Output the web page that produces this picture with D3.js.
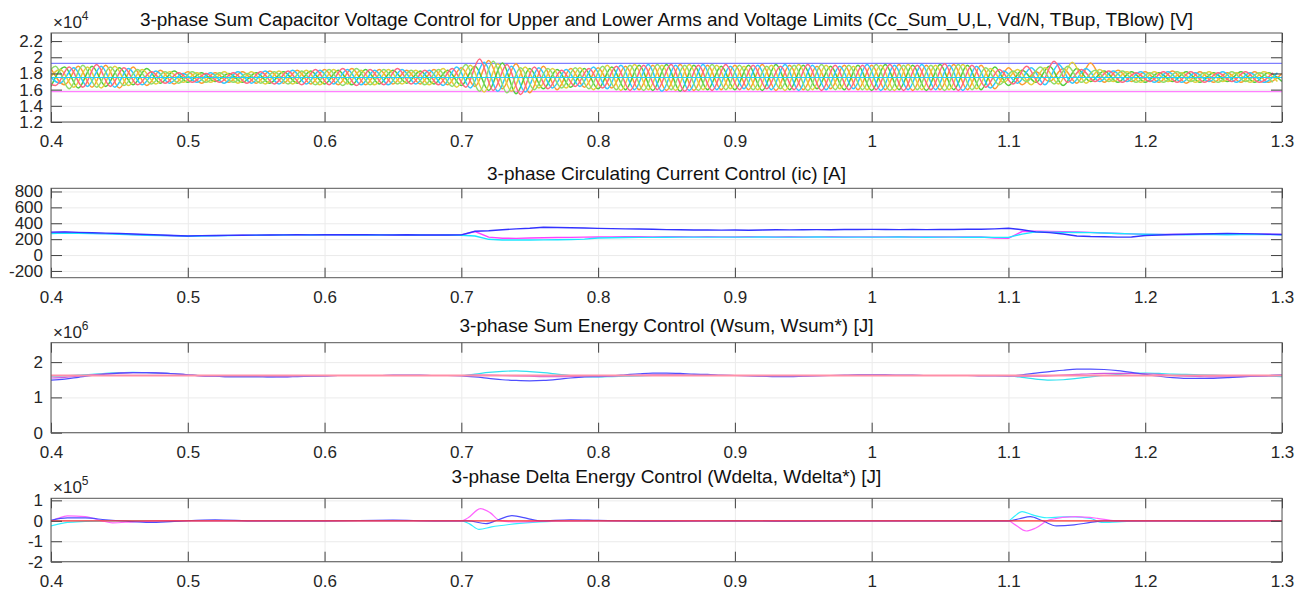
<!DOCTYPE html>
<html>
<head>
<meta charset="utf-8">
<script src="https://cdn.jsdelivr.net/npm/d3@7"></script>
<style>
body { margin: 0; background: #fff; }
svg { font-family: "Liberation Sans", Arial, sans-serif; }
</style>
</head>
<body>
<svg width="1307" height="589"></svg>
<script>
var width = 1307;
var height = 589;
var margin = {left: 51, right: 25};

// x axis, shared by all four panels
var xTicks = [0.4, 0.5, 0.6, 0.7, 0.8, 0.9, 1, 1.1, 1.2, 1.3];

// titles
var titles = [
  "3-phase Sum Capacitor Voltage Control for Upper and Lower Arms and Voltage Limits (Cc_Sum_U,L, Vd/N, TBup, TBlow) [V]",
  "3-phase Circulating Current Control (ic) [A]",
  "3-phase Sum Energy Control (Wsum, Wsum*) [J]",
  "3-phase Delta Energy Control (Wdelta, Wdelta*) [J]"
];

// ---- panel 1: arm sum capacitor voltages, peaks and troughs every half cycle (kV) ----
var halfCycle = 0.01;
var phaseStart = [0.4, 0.39667, 0.39333];

var sumUa = [18.6,16.6,18.9,16.3,19.0,16.2,18.8,16.5,18.4,16.7,
  18.2,16.8,18.1,16.9,18.2,16.8,18.3,16.8,18.4,16.7,
  18.5,16.6,18.6,16.6,18.5,16.7,18.4,16.7,18.5,16.6,
  18.7,16.4,19.6,16.1,19.2,15.6,18.9,16.0,18.6,16.3,
  18.7,16.2,18.9,16.0,19.0,15.9,19.1,15.9,19.0,16.0,
  19.0,16.0,19.1,15.9,19.0,16.0,18.9,16.1,19.0,16.0,
  19.0,16.0,19.1,15.9,19.0,16.0,19.1,16.0,19.0,16.1,
  18.7,16.6,18.2,17.0,18.6,16.8,19.3,16.9,18.4,17.0,
  18.2,16.9,18.3,16.8,18.2,16.9,18.1,16.9,18.2,16.9,18.0];
var sumLa = [16.4,18.8,16.2,18.9,16.4,18.7,16.6,18.6,16.8,18.3,
  16.9,18.1,17.0,18.0,16.9,18.1,16.8,18.2,16.8,18.3,
  16.7,18.4,16.6,18.5,16.7,18.4,16.8,18.3,16.7,18.4,
  16.5,18.9,15.9,19.3,15.5,18.6,16.1,18.5,16.3,18.6,
  16.1,18.8,16.0,19.0,15.9,19.1,15.8,19.0,16.0,18.9,
  16.0,19.0,15.9,19.1,16.0,19.0,16.1,18.9,16.0,19.0,
  15.9,19.1,16.0,19.0,15.9,19.1,16.0,19.0,16.0,18.8,
  16.5,18.4,16.9,18.9,16.5,18.6,17.0,18.3,16.9,18.2,
  16.9,18.1,17.0,18.2,16.9,18.1,17.0,18.2,16.9,18.1,17.0];
var sumUb = [18.2,16.8,18.7,16.4,18.9,16.3,18.6,16.6,18.3,16.8,
  18.0,16.9,18.1,16.8,18.2,16.8,18.3,16.7,18.4,16.7,
  18.4,16.7,18.5,16.6,18.4,16.6,18.5,16.7,18.4,16.5,
  18.8,16.2,19.4,15.8,18.9,15.7,18.7,16.2,18.5,16.4,
  18.8,16.1,19.0,16.0,19.1,15.8,19.0,15.9,19.1,16.0,
  18.9,16.1,19.0,16.0,19.1,15.9,19.0,16.0,18.9,16.1,
  19.1,15.9,19.0,16.0,19.1,16.0,19.0,15.9,18.9,16.2,
  18.3,16.8,18.7,16.6,19.1,16.8,18.6,17.0,18.3,17.0,
  18.2,16.9,18.2,16.9,18.1,17.0,18.2,16.9,18.1,16.9,18.1];
var sumLb = [16.9,18.5,16.3,18.8,16.2,18.9,16.5,18.5,16.7,18.2,
  16.9,18.1,16.9,18.2,16.8,18.2,16.7,18.3,16.7,18.4,
  16.6,18.5,16.7,18.4,16.6,18.5,16.7,18.4,16.6,18.6,
  16.3,19.0,15.7,19.2,15.8,18.8,16.2,18.6,16.2,18.7,
  16.0,19.0,15.9,19.1,16.0,19.0,15.9,19.1,16.0,19.0,
  16.1,18.9,16.0,19.0,15.9,19.1,16.0,19.0,16.1,18.9,
  16.0,19.0,15.9,19.1,16.0,19.0,16.0,19.1,16.1,18.6,
  16.9,18.5,16.6,18.7,16.7,19.4,16.8,18.5,17.0,18.2,
  16.9,18.2,17.0,18.1,16.9,18.2,17.0,18.1,16.9,18.2,17.0];
var sumUc = [17.8,16.5,18.8,16.3,19.1,16.4,18.7,16.6,18.2,16.8,
  18.1,16.9,18.0,16.9,18.1,16.8,18.2,16.7,18.3,16.6,
  18.5,16.6,18.6,16.5,18.5,16.6,18.6,16.7,18.4,16.6,
  18.6,16.3,19.8,15.9,19.1,15.4,18.8,16.1,18.4,16.4,
  18.6,16.2,18.9,15.9,19.0,16.0,19.1,15.8,19.0,15.9,
  19.1,16.0,19.0,16.1,18.9,16.0,19.1,15.9,19.0,16.0,
  19.0,16.0,19.1,15.9,19.0,16.0,19.2,15.9,19.0,16.3,
  18.5,16.7,18.9,16.6,19.5,16.9,18.5,17.0,18.3,16.9,
  18.1,17.0,18.2,16.9,18.2,16.9,18.1,17.0,18.2,16.9,18.1];
var sumLc = [16.2,18.9,16.1,19.0,16.3,18.8,16.5,18.5,16.7,18.2,
  16.8,18.2,16.9,18.1,16.9,18.0,16.8,18.2,16.7,18.3,
  16.6,18.5,16.5,18.6,16.6,18.5,16.7,18.4,16.6,18.5,
  16.4,19.1,15.8,19.5,15.6,18.7,16.0,18.6,16.2,18.7,
  16.1,18.9,16.0,19.0,15.9,19.1,16.0,19.0,15.9,19.1,
  16.0,19.0,16.0,18.9,16.1,19.0,15.9,19.1,16.0,19.0,
  16.0,19.1,15.9,19.0,16.0,19.0,15.9,19.1,16.0,18.7,
  16.6,18.3,17.0,18.8,16.7,18.9,16.9,18.4,17.0,18.3,
  16.9,18.1,16.9,18.2,17.0,18.1,16.9,18.2,17.0,18.1,16.9];

var vdN = 17.5;
var tbUp = 19.25;
var tbLow = 15.75;

// ---- panel 2: circulating currents every 10 ms (A) ----
var icBlue = [288,292,285,281,276,272,265,258,252,246,
  240,244,246,247,250,251,253,254,255,254,
  256,255,257,255,254,253,255,252,253,252,
  254,300,305,318,330,338,350,346,344,341,
  336,333,330,328,324,320,318,316,315,314,
  315,313,316,318,317,319,320,318,321,322,
  323,321,320,322,320,323,322,325,324,330,
  338,318,292,282,265,240,233,230,226,228,
  246,252,258,262,264,268,272,270,266,262,258];
var icMagenta = [282,286,280,275,270,266,258,252,248,243,
  238,242,245,248,249,250,252,253,254,255,
  254,256,255,254,253,254,252,253,252,253,
  252,296,226,212,210,214,218,220,222,225,
  228,229,230,230,229,231,230,229,230,229,
  228,230,229,227,230,228,229,230,228,229,
  227,229,230,228,229,227,229,228,227,215,
  210,296,300,296,293,290,285,278,272,266,
  260,259,258,260,262,264,266,265,263,261,259];
var icCyan = [272,278,275,270,266,262,256,250,246,242,
  237,240,243,246,248,250,251,252,254,253,
  255,254,253,255,252,254,253,252,251,252,
  250,240,198,190,189,190,191,192,195,200,
  214,218,220,222,223,224,225,226,225,226,
  226,225,227,226,225,226,227,226,225,226,
  226,225,227,226,224,226,225,224,226,222,
  222,264,292,288,286,284,282,278,272,266,
  262,258,257,256,258,257,256,257,258,257,256];

// ---- panel 3: sum energies every 10 ms (x1e6 J) ----
var wsumBlue = [1.49,1.52,1.57,1.62,1.66,1.69,1.70,1.70,1.69,1.67,
  1.64,1.61,1.60,1.59,1.59,1.59,1.58,1.58,1.59,1.60,
  1.61,1.62,1.62,1.62,1.62,1.63,1.63,1.63,1.62,1.62,
  1.61,1.58,1.54,1.50,1.48,1.47,1.48,1.51,1.55,1.58,
  1.59,1.61,1.64,1.67,1.69,1.69,1.68,1.66,1.65,1.63,
  1.62,1.61,1.60,1.59,1.59,1.60,1.61,1.62,1.63,1.64,
  1.64,1.64,1.63,1.63,1.62,1.62,1.62,1.62,1.61,1.61,
  1.61,1.64,1.69,1.73,1.77,1.80,1.80,1.79,1.76,1.71,
  1.65,1.60,1.56,1.54,1.54,1.54,1.56,1.58,1.60,1.62,1.64];
var wsumCyan = [1.60,1.61,1.63,1.65,1.68,1.70,1.71,1.70,1.69,1.67,
  1.64,1.62,1.60,1.59,1.59,1.59,1.59,1.60,1.60,1.61,
  1.61,1.62,1.62,1.62,1.62,1.62,1.62,1.62,1.62,1.62,
  1.62,1.66,1.71,1.74,1.75,1.73,1.70,1.66,1.62,1.59,
  1.58,1.59,1.60,1.61,1.62,1.63,1.63,1.63,1.62,1.62,
  1.62,1.62,1.61,1.61,1.61,1.62,1.62,1.62,1.62,1.62,
  1.62,1.62,1.62,1.62,1.62,1.62,1.62,1.62,1.62,1.62,
  1.61,1.57,1.52,1.49,1.50,1.54,1.58,1.62,1.65,1.68,
  1.69,1.68,1.66,1.65,1.64,1.63,1.62,1.61,1.60,1.60,1.59];
var wsumMagenta = [1.55,1.57,1.60,1.64,1.67,1.69,1.70,1.70,1.69,1.67,
  1.64,1.61,1.60,1.59,1.59,1.59,1.59,1.59,1.60,1.61,
  1.61,1.62,1.62,1.62,1.62,1.62,1.62,1.62,1.62,1.62,
  1.62,1.63,1.63,1.62,1.61,1.60,1.59,1.59,1.59,1.60,
  1.60,1.61,1.62,1.63,1.64,1.64,1.64,1.63,1.63,1.62,
  1.62,1.62,1.61,1.61,1.61,1.61,1.62,1.62,1.62,1.63,
  1.63,1.63,1.62,1.62,1.62,1.62,1.62,1.62,1.62,1.62,
  1.61,1.60,1.60,1.61,1.63,1.65,1.67,1.68,1.68,1.68,
  1.67,1.65,1.62,1.60,1.59,1.58,1.58,1.59,1.60,1.61,1.62];
var wsumRef = 1.62;

// ---- panel 4: delta energies, [time, x1e5 J] ----
var wdeltaBlue = [[0.4,0.02],[0.412,0.14],[0.425,0.14],[0.44,0.05],[0.455,-0.02],[0.472,-0.08],[0.49,-0.03],
  [0.52,0.05],[0.55,0],[0.6,0],[0.65,0.03],[0.68,0],[0.705,0],[0.718,-0.14],[0.727,0.05],[0.737,0.25],
  [0.748,0.12],[0.757,0],[0.78,0.05],[0.8,0.02],[0.85,-0.02],[0.9,0],[0.95,-0.02],[1.0,0],[1.05,0],[1.1,0],
  [1.108,0.1],[1.116,0.2],[1.125,0],[1.135,-0.25],[1.148,-0.2],[1.16,-0.08],[1.17,0],[1.2,0],[1.25,-0.02],[1.3,0]];
var wdeltaMagenta = [[0.4,0],[0.405,0.12],[0.412,0.24],[0.425,0.2],[0.437,0],[0.445,-0.1],[0.46,-0.05],[0.48,0],
  [0.7,0],[0.705,0.15],[0.714,0.6],[0.721,0.4],[0.728,0.02],[0.74,-0.06],[0.76,-0.02],[0.8,0],[1.1,0],
  [1.105,-0.2],[1.113,-0.5],[1.12,-0.35],[1.13,0.05],[1.149,0.2],[1.165,0.12],[1.178,0],[1.3,0]];
var wdeltaCyan = [[0.4,-0.25],[0.412,-0.08],[0.425,-0.03],[0.44,0],[0.7,0],[0.706,-0.15],[0.713,-0.42],
  [0.722,-0.3],[0.735,-0.18],[0.752,-0.08],[0.77,-0.02],[0.8,0],[0.9,-0.02],[1.0,0],[1.1,0],[1.104,0.2],
  [1.11,0.45],[1.117,0.3],[1.128,0.15],[1.145,0.2],[1.16,0.12],[1.168,-0.08],[1.18,-0.05],[1.2,0],[1.3,0]];
var wdeltaRef = 0;

//Scales and helpers

var svg = d3.select('svg');
var x = d3.scaleLinear().domain([0.4, 1.3]).range([margin.left, width - margin.right]);

function gridTimes(values, start, step) {
  return values.map(function (v, i) { return [start + i * step, v]; });
}

function drawPanel(p, idx) {
  var y = d3.scaleLinear().domain(p.domain).range([p.bottom, p.top]);
  var h = p.bottom - p.top;
  var g = svg.append('g');

  // grid lines
  g.append('g')
    .attr("transform", "translate(0," + p.bottom + ")")
    .call(d3.axisBottom(x).tickValues(xTicks).tickSize(-h).tickFormat(""))
    .call(function (a) { a.select('.domain').remove(); a.selectAll('line').attr('stroke', '#ebebeb'); });
  g.append('g')
    .attr("transform", "translate(" + margin.left + ",0)")
    .call(d3.axisLeft(y).tickValues(p.yTicks).tickSize(-(x.range()[1] - margin.left)).tickFormat(""))
    .call(function (a) { a.select('.domain').remove(); a.selectAll('line').attr('stroke', '#ebebeb'); });

  // clip
  svg.append('clipPath').attr('id', 'clip' + idx)
    .append('rect').attr('x', margin.left).attr('y', p.top)
    .attr('width', x.range()[1] - margin.left).attr('height', h);

  var line = d3.line()
    .x(function (d) { return x(d[0]); })
    .y(function (d) { return y(d[1]); })
    .curve(p.curve);

  var lines = g.append('g').attr('clip-path', 'url(#clip' + idx + ')');
  p.series.forEach(function (s) {
    lines.append('path')
      .attr('d', line(s.points))
      .attr('fill', 'none')
      .attr('stroke', s.color)
      .attr('stroke-width', s.width || 1.2)
      .attr('stroke-opacity', s.opacity || 1);
  });

  // ticks, bottom with labels
  var xb = g.append('g')
    .attr("transform", "translate(0," + p.bottom + ")")
    .call(d3.axisBottom(x).tickValues(xTicks).tickSize(-10).tickPadding(13).tickFormat(d3.format("~g")));
  var xt = g.append('g')
    .attr("transform", "translate(0," + p.top + ")")
    .call(d3.axisTop(x).tickValues(xTicks).tickSize(-10).tickFormat(""));
  var yl = g.append('g')
    .attr("transform", "translate(" + margin.left + ",0)")
    .call(d3.axisLeft(y).tickValues(p.yTicks).tickSize(-11).tickPadding(8).tickFormat(p.yFormat));
  var yr = g.append('g')
    .attr("transform", "translate(" + x.range()[1] + ",0)")
    .call(d3.axisRight(y).tickValues(p.yTicks).tickSize(-11).tickFormat(""));

  [xb, xt, yl, yr].forEach(function (a) {
    a.select('.domain').remove();
    a.selectAll('line').attr('stroke', '#404040');
    a.selectAll('text').attr('font-size', 17).attr('fill', '#262626')
      .attr('font-family', '"Liberation Sans", Arial, sans-serif');
  });

  // box
  g.append('rect')
    .attr('x', margin.left).attr('y', p.top)
    .attr('width', x.range()[1] - margin.left).attr('height', h)
    .attr('fill', 'none').attr('stroke', '#555').attr('stroke-width', 1);

  // title
  g.append('text')
    .attr('x', (margin.left + x.range()[1]) / 2)
    .attr('y', p.titleY)
    .attr('text-anchor', 'middle')
    .attr('font-size', 19)
    .attr('fill', '#111')
    .text(titles[idx]);

  // exponent label
  if (p.exponent) {
    var ex = g.append('text')
      .attr('x', 53).attr('y', p.top - 5)
      .attr('font-size', 17).attr('fill', '#262626');
    ex.append('tspan').text('\u00d710');
    ex.append('tspan').attr('dy', -8).attr('font-size', 12).text(p.exponent);
  }
}

var flat = function (v) { return [[0.4, v], [1.3, v]]; };

var panels = [
  {
    top: 33, bottom: 122, domain: [12, 23], yTicks: [12, 14, 16, 18, 20, 22],
    yFormat: function (v) { return d3.format("~g")(v / 10); },
    titleY: 26, exponent: '4', curve: d3.curveMonotoneX,
    series: [
      {points: flat(tbUp), color: '#7f7fff'},
      {points: flat(tbLow), color: '#ff7fff'},
      {points: gridTimes(sumUa, phaseStart[0], halfCycle), color: '#ff9a2e', width: 1.5},
      {points: gridTimes(sumLa, phaseStart[0], halfCycle), color: '#52cc3d', width: 1.5},
      {points: gridTimes(sumUb, phaseStart[1], halfCycle), color: '#2fc8ff', width: 1.5},
      {points: gridTimes(sumLb, phaseStart[1], halfCycle), color: '#e3cf3c', width: 1.5},
      {points: gridTimes(sumUc, phaseStart[2], halfCycle), color: '#ff6680', width: 1.5},
      {points: gridTimes(sumLc, phaseStart[2], halfCycle), color: '#8fdc6a', width: 1.5},
      {points: flat(vdN), color: '#19d2ff'}
    ]
  },
  {
    top: 188.3, bottom: 277.7, domain: [-285, 840], yTicks: [-200, 0, 200, 400, 600, 800],
    yFormat: function (v) { return String(v); },
    titleY: 180, curve: d3.curveLinear,
    series: [
      {points: gridTimes(icMagenta, 0.4, 0.01), color: '#ff40ff', width: 1.4},
      {points: gridTimes(icCyan, 0.4, 0.01), color: '#1ae6ff', width: 1.4},
      {points: gridTimes(icBlue, 0.4, 0.01), color: '#3333ff', width: 1.4}
    ]
  },
  {
    top: 342.7, bottom: 432.7, domain: [0, 2.55], yTicks: [0, 1, 2],
    yFormat: function (v) { return String(v); },
    titleY: 332, exponent: '6', curve: d3.curveMonotoneX,
    series: [
      {points: gridTimes(wsumCyan, 0.4, 0.01), color: '#33e0f0'},
      {points: gridTimes(wsumMagenta, 0.4, 0.01), color: '#d05ae0'},
      {points: gridTimes(wsumBlue, 0.4, 0.01), color: '#5050ff'},
      {points: flat(wsumRef), color: '#ff8fa8', width: 1.8}
    ]
  },
  {
    top: 498.3, bottom: 561.7, domain: [-2, 1.1], yTicks: [-2, -1, 0, 1],
    yFormat: function (v) { return String(v); },
    titleY: 483, exponent: '5', curve: d3.curveMonotoneX,
    series: [
      {points: wdeltaCyan, color: '#33f0ff'},
      {points: wdeltaMagenta, color: '#ff66ff'},
      {points: wdeltaBlue, color: '#4d4dff'},
      {points: flat(wdeltaRef), color: '#ff3333'}
    ]
  }
];

panels.forEach(drawPanel);
</script>
</body>
</html>
